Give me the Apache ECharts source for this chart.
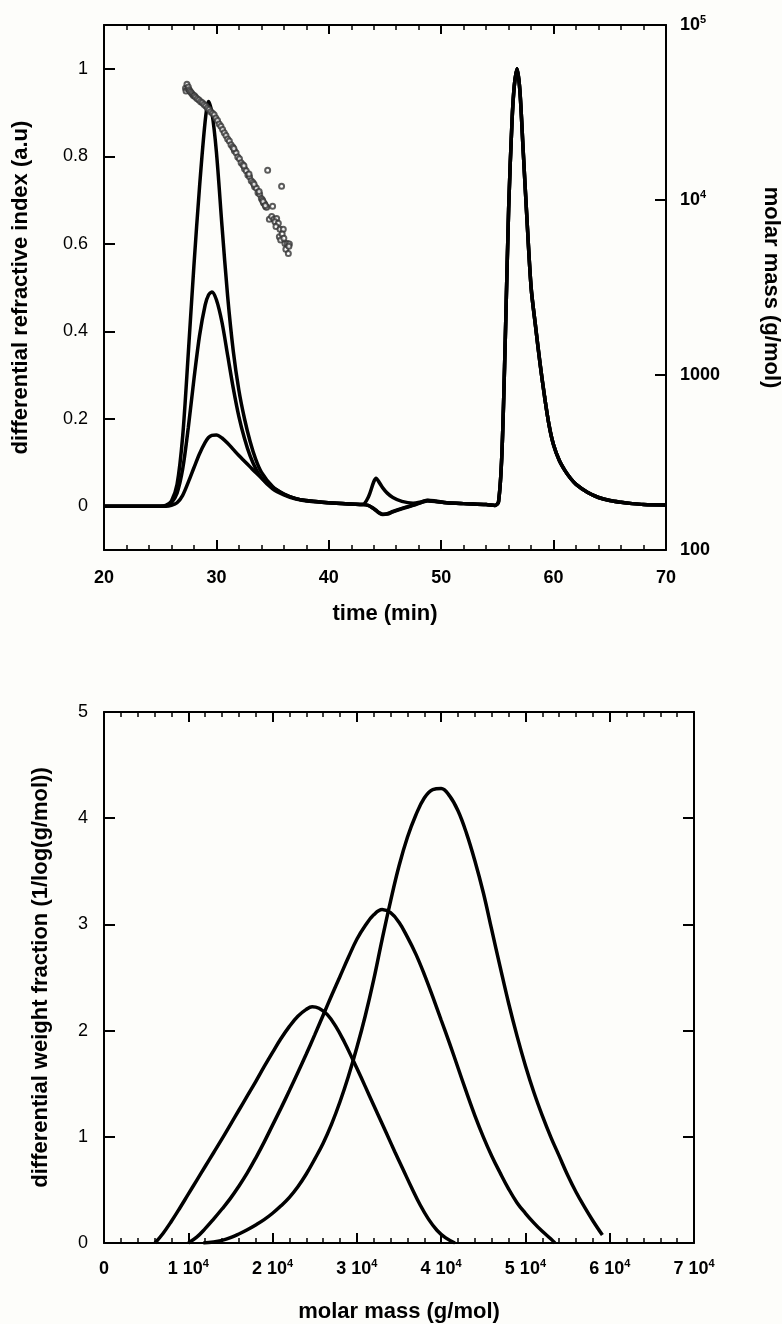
<!DOCTYPE html>
<html><head><meta charset="utf-8">
<script src="https://cdn.jsdelivr.net/npm/echarts@6/dist/echarts.min.js"></script>
<style>html,body{margin:0;padding:0;background:#fdfdfa}#c{width:782px;height:1324px}</style>
</head><body><div id="c"></div>
<script>
// ---- top chart: RI chromatograms (time in min) ----
const timeMin = [20, 24, 25, 25.5, 26, 26.5, 27, 27.5, 28, 28.5,
  29, 29.3, 29.6, 30, 30.5, 31, 31.5, 32, 32.5, 33,
  33.5, 34, 35, 36, 37, 38, 40, 42, 43, 43.5,
  44, 44.2, 44.5, 44.8, 45.2, 45.7, 46.5, 47.5, 48.2, 48.8,
  49.5, 50.5, 52, 54, 54.8, 55.1, 55.4, 55.7, 56.0, 56.3,
  56.5, 56.75, 57.0, 57.3, 57.6, 58.0, 58.4, 58.8, 59.2, 59.6,
  60, 60.5, 61, 61.5, 62, 63, 64, 65, 66, 67,
  68, 70];
const riLarge = [0, 0, 0, 0.002, 0.012, 0.05, 0.16, 0.35, 0.55, 0.73,
  0.88, 0.925, 0.9, 0.81, 0.64, 0.48, 0.355, 0.265, 0.2, 0.148,
  0.107, 0.078, 0.045, 0.028, 0.018, 0.013, 0.008, 0.005, 0.004, 0.002,
  -0.006, -0.01, -0.016, -0.019, -0.018, -0.013, -0.006, 0.002, 0.008, 0.012,
  0.011, 0.008, 0.006, 0.004, 0.002, 0.01, 0.12, 0.38, 0.68, 0.88,
  0.96, 1.0, 0.95, 0.81, 0.67, 0.5, 0.41, 0.325, 0.25, 0.185,
  0.14, 0.105, 0.082, 0.064, 0.05, 0.032, 0.02, 0.013, 0.009, 0.006,
  0.004, 0.003];
const riMedium = [0, 0, 0, 0.001, 0.008, 0.03, 0.085, 0.18, 0.29, 0.39,
  0.46, 0.483, 0.49, 0.472, 0.42, 0.345, 0.27, 0.205, 0.155, 0.115,
  0.086, 0.065, 0.04, 0.026, 0.017, 0.012, 0.008, 0.005, 0.004, 0.002,
  -0.005, -0.009, -0.015, -0.018, -0.017, -0.012, -0.005, 0.003, 0.009, 0.013,
  0.011, 0.008, 0.006, 0.004, 0.002, 0.01, 0.12, 0.38, 0.68, 0.88,
  0.96, 1.0, 0.95, 0.81, 0.67, 0.5, 0.41, 0.325, 0.25, 0.185,
  0.14, 0.105, 0.082, 0.064, 0.05, 0.032, 0.02, 0.013, 0.009, 0.006,
  0.004, 0.003];
const riSmall = [0, 0, 0, 0, 0.002, 0.008, 0.025, 0.055, 0.088, 0.12,
  0.146, 0.157, 0.162, 0.163, 0.156, 0.144, 0.13, 0.116, 0.103, 0.09,
  0.077, 0.065, 0.043, 0.028, 0.018, 0.013, 0.008, 0.005, 0.004, 0.02,
  0.056, 0.064, 0.054, 0.042, 0.03, 0.02, 0.011, 0.007, 0.01, 0.014,
  0.012, 0.008, 0.006, 0.004, 0.002, 0.01, 0.12, 0.38, 0.68, 0.88,
  0.96, 1.0, 0.95, 0.81, 0.67, 0.5, 0.41, 0.325, 0.25, 0.185,
  0.14, 0.105, 0.082, 0.064, 0.05, 0.032, 0.02, 0.013, 0.009, 0.006,
  0.004, 0.003];
// molar mass points (right log axis)
const mmTime = [27.25, 27.3, 27.38, 27.45, 27.5, 27.58, 27.65, 27.75, 27.85, 27.95,
  28.05, 28.15, 28.3, 28.45, 28.6, 28.75, 28.9, 29.05, 29.2, 29.35,
  29.5, 29.65, 29.8, 29.95, 30.1, 30.25, 30.4, 30.55, 30.7, 30.85,
  31.0, 31.15, 31.3, 31.45, 31.6, 31.75, 31.9, 32.05, 32.2, 32.35,
  32.5, 32.65, 32.8, 32.95, 33.1, 33.25, 33.4, 33.55, 33.7, 33.85,
  34.0, 34.1, 34.2, 34.3, 34.4, 34.47, 31.55, 32.45, 32.9, 33.35,
  33.8, 34.15, 34.35, 34.56, 35.8, 35.0, 34.71, 34.92, 35.12, 35.36,
  35.21, 35.51, 35.3, 35.66, 35.95, 35.6, 35.72, 36.1, 36.31, 36.49,
  36.18, 36.4, 36.45, 35.85, 36.0];
const mmMolarMass = [43500, 42000, 45800, 43200, 44200, 42600, 41800, 41200, 40300, 39600,
  39400, 38600, 37900, 37300, 36400, 35900, 35100, 34500, 33500, 32900,
  31900, 31300, 30700, 29400, 28500, 27200, 26400, 25300, 24200, 23400,
  22300, 21700, 20700, 20100, 19100, 18600, 17600, 17200, 16300, 15900,
  15100, 14700, 13900, 13600, 12900, 12600, 11900, 11700, 11000, 10800,
  10200, 10000, 9600, 9500, 9150, 9080, 19700, 15700, 14100, 12300,
  11200, 9800, 9300, 14800, 12000, 9200, 7760, 8040, 7760, 7850,
  7510, 7360, 7050, 6810, 6810, 6170, 5900, 5650, 5650, 5610,
  5230, 4950, 5450, 6400, 6050];

// ---- bottom chart: molar mass distributions ----
const mwdMassLow = [6050, 7000, 8000, 9000, 10000, 11000, 12000, 13000, 14000, 15000,
  16000, 17000, 18000, 19000, 20000, 21000, 22000, 23000, 24000, 24700,
  25500, 26500, 27500, 28500, 29500, 30500, 31500, 32500, 33500, 34500,
  35500, 36500, 37500, 38500, 39500, 40500, 41640];
const mwdFracLow = [0, 0.09, 0.205, 0.33, 0.46, 0.59, 0.72, 0.85, 0.98, 1.115,
  1.25, 1.385, 1.52, 1.66, 1.795, 1.925, 2.04, 2.135, 2.2, 2.225,
  2.21, 2.15, 2.04, 1.895, 1.73, 1.56, 1.385, 1.21, 1.035, 0.86,
  0.69, 0.52, 0.36, 0.225, 0.12, 0.05, 0];
const mwdMassMid = [10000, 11000, 12000, 13000, 14000, 15000, 16000, 17000, 18000, 19000,
  20000, 21000, 22000, 23000, 24000, 25000, 26000, 27000, 28000, 29000,
  30000, 31000, 32000, 33000, 34000, 35000, 36000, 37000, 38000, 39000,
  40000, 41000, 42000, 43000, 44000, 45000, 46000, 47000, 48000, 49000,
  50000, 51000, 52000, 53000, 53500];
const mwdFracMid = [0, 0.055, 0.135, 0.225, 0.32, 0.42, 0.535, 0.66, 0.8, 0.95,
  1.11, 1.27, 1.435, 1.605, 1.78, 1.96, 2.145, 2.33, 2.51, 2.69,
  2.86, 2.99, 3.09, 3.14, 3.11, 3.02, 2.88, 2.72, 2.53, 2.32,
  2.1, 1.88, 1.65, 1.42, 1.2, 1.0, 0.82, 0.66, 0.51, 0.38,
  0.28, 0.19, 0.11, 0.04, 0];
const mwdMassHigh = [11780, 13000, 14000, 15000, 16000, 17000, 18000, 19000, 20000, 21000,
  22000, 23000, 24000, 25000, 26000, 27000, 28000, 29000, 30000, 31000,
  32000, 33000, 34000, 35000, 36000, 37000, 38000, 39000, 40000, 41000,
  42000, 43000, 44000, 45000, 46000, 47000, 48000, 49000, 50000, 51000,
  52000, 53000, 54000, 55000, 56000, 57000, 58000, 59130];
const mwdFracHigh = [0, 0.01, 0.025, 0.05, 0.085, 0.125, 0.17, 0.22, 0.28, 0.35,
  0.43, 0.53, 0.65, 0.79, 0.94, 1.12, 1.33, 1.57, 1.84, 2.14,
  2.48, 2.86, 3.22, 3.55, 3.82, 4.03, 4.19, 4.27, 4.28, 4.21,
  4.07, 3.86, 3.6, 3.3, 2.95, 2.6, 2.26, 1.95, 1.67, 1.42,
  1.2, 1.0, 0.82, 0.64, 0.48, 0.34, 0.21, 0.075];

// tick labels
const riTickValues = [0, 0.2, 0.4, 0.6, 0.8, 1];

const zip = (a, b) => a.map((v, i) => [v, b[i]]);
const FONT = '"Liberation Sans", Arial, sans-serif';
const BLACK = '#000';
const lineAx = { show: true, onZero: false, lineStyle: { color: BLACK, width: 2 } };
const tick = (len) => ({ show: true, inside: true, length: len, lineStyle: { color: BLACK, width: 2 } });
const minor = { show: true, splitNumber: 5, length: 5, lineStyle: { color: BLACK, width: 1.5 } };
const noSplit = { show: false };
const nameStyle = { fontFamily: FONT, fontSize: 22, fontWeight: 'bold', color: BLACK };
const richNum = {
  b: { fontFamily: FONT, fontSize: 18, fontWeight: 'bold', color: BLACK, lineHeight: 22 },
  s: { fontFamily: FONT, fontSize: 11, fontWeight: 'bold', color: BLACK, verticalAlign: 'top', lineHeight: 12 }
};

const lineSeries = (x, y, xi, yi, sm) => ({
  type: 'line', xAxisIndex: xi, yAxisIndex: yi, data: zip(x, y),
  showSymbol: false, smooth: sm, lineStyle: { color: BLACK, width: 3.5 }, z: 3
});

const chart = echarts.init(document.getElementById('c'), null, { renderer: 'canvas' });
chart.setOption({
  animation: false,
  backgroundColor: '#fdfdfa',
  grid: [
    { left: 104, top: 25, width: 562, height: 525, outerBoundsMode: 'none' },
    { left: 104, top: 712, width: 590, height: 531, outerBoundsMode: 'none' }
  ],
  xAxis: [
    { gridIndex: 0, type: 'value', position: 'bottom', min: 20, max: 70, interval: 10,
      axisLine: lineAx, axisTick: tick(10), minorTick: minor, splitLine: noSplit, minorSplitLine: noSplit,
      axisLabel: { fontFamily: FONT, fontSize: 18, fontWeight: 'bold', color: BLACK, margin: 19 },
      name: 'time (min)', nameLocation: 'middle', nameGap: 53, nameTextStyle: nameStyle },
    { gridIndex: 0, type: 'value', position: 'top', min: 20, max: 70, interval: 10,
      axisLine: lineAx, axisTick: tick(9), minorTick: minor, splitLine: noSplit, minorSplitLine: noSplit,
      axisLabel: { show: false } },
    { gridIndex: 1, type: 'value', position: 'bottom', min: 0, max: 70000, interval: 10000,
      axisLine: lineAx, axisTick: tick(10), minorTick: minor, splitLine: noSplit, minorSplitLine: noSplit,
      axisLabel: { margin: 15, showMinLabel: true, showMaxLabel: true, rich: richNum,
        formatter: v => v === 0 ? '{b|0}' : '{b|' + Math.round(v / 10000) + ' 10}{s|4}' },
      name: 'molar mass (g/mol)', nameLocation: 'middle', nameGap: 58, nameTextStyle: nameStyle },
    { gridIndex: 1, type: 'value', position: 'top', min: 0, max: 70000, interval: 10000,
      axisLine: lineAx, axisTick: tick(10), minorTick: minor, splitLine: noSplit, minorSplitLine: noSplit,
      axisLabel: { show: false } }
  ],
  yAxis: [
    { gridIndex: 0, type: 'value', position: 'left', min: -0.1, max: 1.1,
      axisLine: lineAx, axisTick: Object.assign(tick(11), { customValues: riTickValues }), splitLine: noSplit,
      axisLabel: { customValues: riTickValues, fontFamily: FONT, fontSize: 18, color: BLACK, margin: 16,
        formatter: v => String(Math.round(v * 10) / 10) },
      name: 'differential refractive index (a.u)', nameLocation: 'middle', nameGap: 72, nameTextStyle: nameStyle },
    { gridIndex: 0, type: 'log', logBase: 10, position: 'right', min: 100, max: 100000,
      axisLine: lineAx, axisTick: tick(11), splitLine: noSplit, minorTick: { show: false },
      axisLabel: { margin: 14, showMinLabel: true, showMaxLabel: true, rich: richNum,
        formatter: v => { const e = Math.round(Math.log10(v)); return e >= 4 ? '{b|10}{s|' + e + '}' : '{b|' + Math.pow(10, e) + '}'; } },
      name: 'molar mass (g/mol)', nameLocation: 'middle', nameRotate: -90, nameGap: 94, nameTextStyle: nameStyle },
    { gridIndex: 1, type: 'value', position: 'left', min: 0, max: 5, interval: 1,
      axisLine: lineAx, axisTick: tick(11), splitLine: noSplit,
      axisLabel: { fontFamily: FONT, fontSize: 18, color: BLACK, margin: 16, showMinLabel: true, showMaxLabel: true },
      name: 'differential weight fraction (1/log(g/mol))', nameLocation: 'middle', nameGap: 52, nameTextStyle: nameStyle },
    { gridIndex: 1, type: 'value', position: 'right', min: 0, max: 5, interval: 1,
      axisLine: lineAx, axisTick: tick(11), splitLine: noSplit, axisLabel: { show: false } }
  ],
  series: [
    lineSeries(timeMin, riLarge, 0, 0, 0.3),
    lineSeries(timeMin, riMedium, 0, 0, 0.3),
    lineSeries(timeMin, riSmall, 0, 0, 0.3),
    { type: 'scatter', xAxisIndex: 0, yAxisIndex: 1, data: zip(mmTime, mmMolarMass),
      symbol: 'emptyCircle', symbolSize: 5, z: 4,
      itemStyle: { color: '#333', borderColor: '#333', borderWidth: 0.7 } },
    lineSeries(mwdMassLow, mwdFracLow, 2, 2, 0.4),
    lineSeries(mwdMassMid, mwdFracMid, 2, 2, 0.4),
    lineSeries(mwdMassHigh, mwdFracHigh, 2, 2, 0.4)
  ]
});
</script>
</body></html>
